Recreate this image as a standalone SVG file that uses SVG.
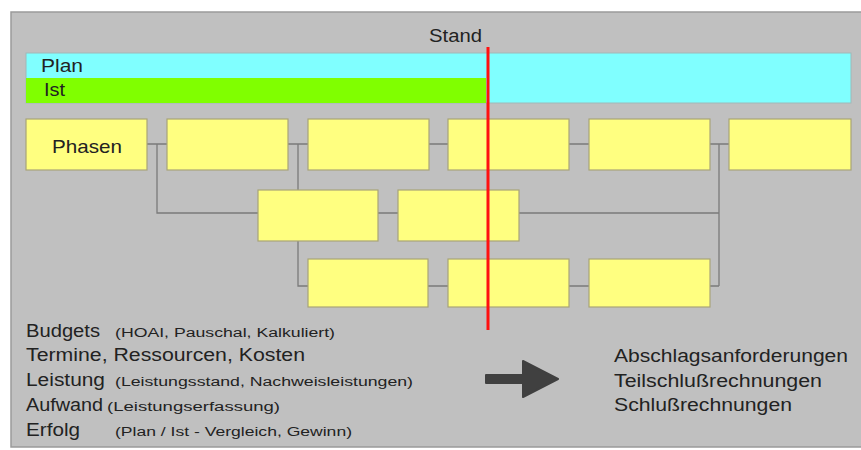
<svg xmlns="http://www.w3.org/2000/svg" width="861" height="450" viewBox="0 0 861 450">
<style>
.box{fill:#FFFF80;stroke:#A8A478;stroke-width:1.2}
.con{fill:none;stroke:#7A7A7A;stroke-width:1.3}
.t{font-family:"Liberation Sans",Arial,sans-serif;fill:#222}
.big{font-size:17.5px}
.sm{font-size:12.5px}
</style>
<rect x="0" y="0" width="861" height="450" fill="#fff"/>
<rect x="11" y="12" width="851" height="435" fill="#C0C0C0" stroke="#9A9A9A" stroke-width="1.5"/>
<g id="plan-bar">
<rect x="26" y="53" width="825" height="50" fill="#80FFFF" stroke="#A0B8B8" stroke-width="1"/>
<text class="t big" x="41" y="72" textLength="42" lengthAdjust="spacingAndGlyphs">Plan</text>
</g>
<g id="ist-bar">
<rect x="26" y="78" width="460" height="25" fill="#80FF00"/>
<text class="t big" x="44" y="96" textLength="21" lengthAdjust="spacingAndGlyphs">Ist</text>
</g>
<g id="connectors">
<path class="con" d="M147 144H729M157 144V213H719M298 144V286H719M719 144V286"/>
</g>
<g id="phasen"><rect class="box" x="26" y="119" width="121" height="51"/><text class="t" font-size="19" x="52" y="153" textLength="70" lengthAdjust="spacingAndGlyphs">Phasen</text></g>
<g id="p2"><rect class="box" x="167" y="119" width="121" height="51"/></g>
<g id="p3"><rect class="box" x="308" y="119" width="121" height="51"/></g>
<g id="p4"><rect class="box" x="448" y="119" width="121" height="51"/></g>
<g id="p5"><rect class="box" x="589" y="119" width="121" height="51"/></g>
<g id="p6"><rect class="box" x="729" y="119" width="122" height="51"/></g>
<g id="r2a"><rect class="box" x="258" y="190" width="120" height="51"/></g>
<g id="r2b"><rect class="box" x="398" y="190" width="121" height="51"/></g>
<g id="r3a"><rect class="box" x="308" y="259" width="120" height="48"/></g>
<g id="r3b"><rect class="box" x="448" y="259" width="121" height="48"/></g>
<g id="r3c"><rect class="box" x="589" y="259" width="121" height="48"/></g>
<g id="stand">
<text class="t big" x="429" y="42" textLength="53" lengthAdjust="spacingAndGlyphs">Stand</text>
<line x1="488" y1="47" x2="488" y2="330" stroke="#FF1010" stroke-width="3"/>
</g>
<g id="left-text">
<text class="t big" x="26" y="337" textLength="74" lengthAdjust="spacingAndGlyphs">Budgets</text>
<text class="t sm" x="115" y="337" textLength="220" lengthAdjust="spacingAndGlyphs">(HOAI, Pauschal, Kalkuliert)</text>
<text class="t big" x="26" y="361" textLength="279" lengthAdjust="spacingAndGlyphs">Termine, Ressourcen, Kosten</text>
<text class="t big" x="26" y="386" textLength="79" lengthAdjust="spacingAndGlyphs">Leistung</text>
<text class="t sm" x="115" y="386" textLength="298" lengthAdjust="spacingAndGlyphs">(Leistungsstand, Nachweisleistungen)</text>
<text class="t big" x="26" y="411" textLength="77" lengthAdjust="spacingAndGlyphs">Aufwand</text>
<text class="t sm" x="107" y="411" textLength="173" lengthAdjust="spacingAndGlyphs">(Leistungserfassung)</text>
<text class="t big" x="26" y="436" textLength="54" lengthAdjust="spacingAndGlyphs">Erfolg</text>
<text class="t sm" x="115" y="436" textLength="237" lengthAdjust="spacingAndGlyphs">(Plan / Ist - Vergleich, Gewinn)</text>
</g>
<g id="arrow">
<path d="M486 375H523V361L558 379L523 397V383H486Z" fill="#404040" stroke="#404040" stroke-width="2" stroke-linejoin="round"/>
</g>
<g id="right-text">
<text class="t big" x="614" y="362" textLength="234" lengthAdjust="spacingAndGlyphs">Abschlagsanforderungen</text>
<text class="t big" x="614" y="387" textLength="208" lengthAdjust="spacingAndGlyphs">Teilschlußrechnungen</text>
<text class="t big" x="614" y="411" textLength="178" lengthAdjust="spacingAndGlyphs">Schlußrechnungen</text>
</g>
</svg>
